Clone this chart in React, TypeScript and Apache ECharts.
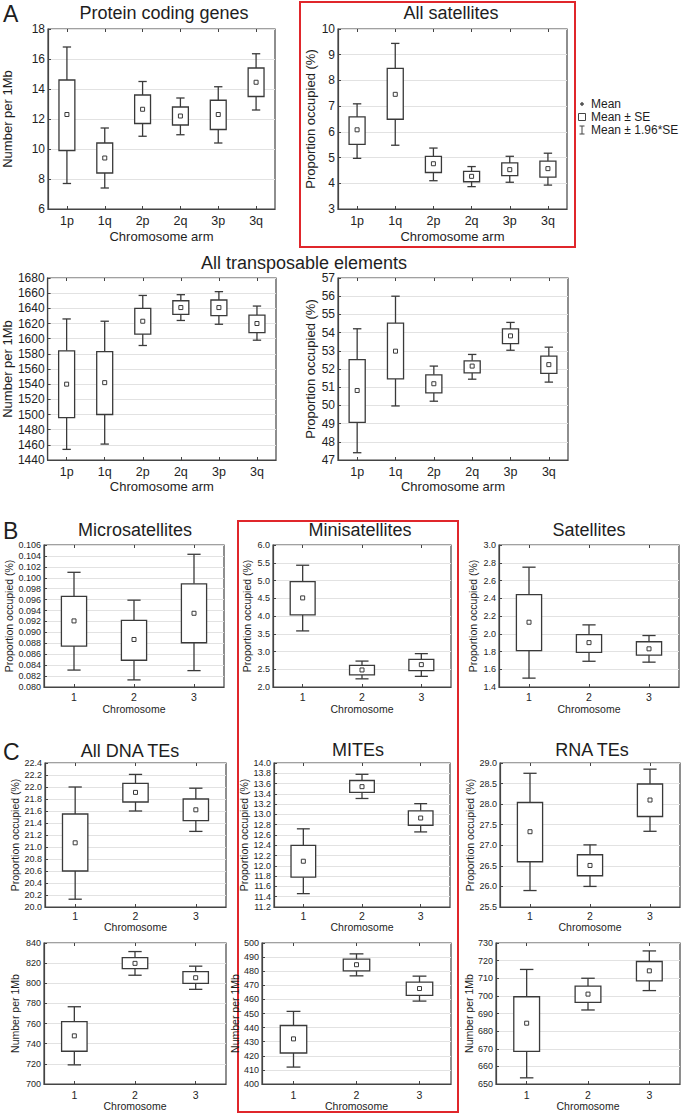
import React, { useEffect, useRef } from "react";
import * as echarts from "echarts";

// ---------- categories ----------
const armCategories = ["1p", "1q", "2p", "2q", "3p", "3q"];
const chromCategories = ["1", "2", "3"];

// each row: [mean-1.96SE, mean-SE, mean, mean+SE, mean+1.96SE]
const proteinCodingGenes = [
  [7.7, 9.9, 12.3, 14.6, 16.8],
  [7.4, 8.4, 9.4, 10.4, 11.4],
  [10.85, 11.7, 12.65, 13.6, 14.5],
  [10.95, 11.6, 12.2, 12.8, 13.4],
  [10.4, 11.3, 12.3, 13.25, 14.15],
  [12.6, 13.5, 14.45, 15.4, 16.35],
];
const allSatellites = [
  [4.97, 5.51, 6.08, 6.58, 7.09],
  [5.48, 6.49, 7.46, 8.47, 9.44],
  [4.1, 4.42, 4.76, 5.05, 5.37],
  [3.87, 4.06, 4.27, 4.46, 4.65],
  [4.04, 4.3, 4.53, 4.79, 5.05],
  [3.93, 4.24, 4.57, 4.86, 5.17],
];
const allTECount = [
  [1454, 1496, 1540, 1584, 1626],
  [1461, 1500, 1542, 1583, 1623],
  [1591, 1606, 1623, 1640, 1657],
  [1624, 1632, 1641, 1650, 1658],
  [1619, 1630.5, 1641, 1651, 1662],
  [1598, 1608, 1620, 1631, 1643],
];
const allTEProportion = [
  [47.4, 49.07, 50.82, 52.52, 54.21],
  [49.97, 51.46, 52.98, 54.52, 56.0],
  [50.23, 50.69, 51.19, 51.68, 52.16],
  [51.44, 51.79, 52.16, 52.45, 52.8],
  [53.03, 53.39, 53.82, 54.2, 54.56],
  [51.28, 51.76, 52.24, 52.71, 53.2],
];
const microsatellites = [
  [0.0831, 0.0875, 0.0921, 0.0966, 0.101],
  [0.0813, 0.0849, 0.0887, 0.0922, 0.0959],
  [0.083, 0.0881, 0.0935, 0.0989, 0.1043],
];
const minisatellites = [
  [3.58, 4.03, 4.51, 4.97, 5.43],
  [2.23, 2.34, 2.48, 2.61, 2.73],
  [2.3, 2.46, 2.63, 2.78, 2.94],
];
const satellites = [
  [1.5, 1.81, 2.13, 2.44, 2.75],
  [1.69, 1.79, 1.9, 1.99, 2.1],
  [1.68, 1.76, 1.83, 1.91, 1.98],
];
const dnaTEProportion = [
  [20.13, 20.6, 21.07, 21.55, 22.0],
  [21.6, 21.75, 21.91, 22.06, 22.21],
  [21.26, 21.44, 21.62, 21.8, 21.98],
];
const mitesProportion = [
  [11.46, 11.78, 12.09, 12.4, 12.72],
  [13.31, 13.43, 13.54, 13.66, 13.78],
  [12.66, 12.79, 12.93, 13.07, 13.21],
];
const rnaTEProportion = [
  [25.9, 26.6, 27.33, 28.04, 28.75],
  [26.0, 26.26, 26.51, 26.77, 27.01],
  [27.34, 27.7, 28.1, 28.49, 28.85],
];
const dnaTECount = [
  [719, 732.5, 747.8, 762, 776.7],
  [808, 814.5, 819.8, 825.5, 831.5],
  [794, 800, 805.5, 811.5, 817],
];
const mitesCount = [
  [412, 422, 432, 441.5, 451.5],
  [476.7, 480.3, 484.6, 488.5, 492.3],
  [458.8, 462.9, 467.7, 472.2, 476.5],
];
const rnaTECount = [
  [653.5, 668.5, 684.5, 699.5, 715],
  [692, 696.3, 701, 705.5, 710],
  [703, 708.5, 714.2, 719.5, 725.5],
];

const FONT = "'Liberation Sans', Arial, Helvetica, sans-serif";
const INK = "#3a3a3a";
const TXT = "#1e1e1e";

function renderBox(params: any, api: any) {
  const x = api.value(0);
  const ys = [1, 2, 3, 4, 5].map((i) => api.coord([x, api.value(i)])[1]);
  const cx = api.coord([x, api.value(3)])[0];
  const band = api.size([1, 0])[0];
  const bw = band * 0.42;
  const cw = band * 0.22;
  const [wl, bl, m, bh, wh] = ys;
  const st = { stroke: INK, lineWidth: 1.3, fill: null };
  return {
    type: "group",
    children: [
      { type: "line", shape: { x1: cx, y1: wl, x2: cx, y2: bl }, style: st },
      { type: "line", shape: { x1: cx, y1: bh, x2: cx, y2: wh }, style: st },
      { type: "line", shape: { x1: cx - cw / 2, y1: wl, x2: cx + cw / 2, y2: wl }, style: st },
      { type: "line", shape: { x1: cx - cw / 2, y1: wh, x2: cx + cw / 2, y2: wh }, style: st },
      { type: "rect", shape: { x: cx - bw / 2, y: bh, width: bw, height: bl - bh }, style: { stroke: INK, lineWidth: 1.3, fill: "#fff" } },
      { type: "rect", shape: { x: cx - 2, y: m - 2, width: 4, height: 4 }, style: { stroke: INK, lineWidth: 1, fill: "#fff" } },
    ],
  };
}

type PanelCfg = {
  left: number; top: number; width: number; height: number;
  cats: string[]; data: number[][];
  min: number; max: number; interval: number; dec: number;
  yName: string; yNameGap: number; xName: string; xNameGap: number;
  tickFont: number; xLabelFont: number; nameFont: number; xNameFont: number; labelMargin: number;
};

function buildOption() {
  const big = { tickFont: 12, xLabelFont: 12.5, nameFont: 13, xNameFont: 13 };
  const small = { tickFont: 9, xLabelFont: 10.5, nameFont: 10.5, xNameFont: 10.5 };
  const panels: PanelCfg[] = [
    { left: 46, top: 29, width: 229, height: 180, cats: armCategories, data: proteinCodingGenes, min: 6, max: 18, interval: 2, dec: 0, yName: "Number per 1Mb", yNameGap: 34, xName: "Chromosome arm", xNameGap: 21, labelMargin: 5, ...big },
    { left: 338, top: 29, width: 229, height: 180, cats: armCategories, data: allSatellites, min: 3, max: 10, interval: 1, dec: 0, yName: "Proportion occupied (%)", yNameGap: 21, xName: "Chromosome arm", xNameGap: 21, labelMargin: 5, ...big },
    { left: 45, top: 278, width: 231, height: 182, cats: armCategories, data: allTECount, min: 1440, max: 1680, interval: 20, dec: 0, yName: "Number per 1Mb", yNameGap: 33, xName: "Chromosome arm", xNameGap: 20, labelMargin: 5, ...big },
    { left: 338, top: 278, width: 230, height: 182, cats: armCategories, data: allTEProportion, min: 47, max: 57, interval: 1, dec: 0, yName: "Proportion occupied (%)", yNameGap: 21, xName: "Chromosome arm", xNameGap: 20, labelMargin: 5, ...big },

    { left: 44, top: 545, width: 180, height: 142, cats: chromCategories, data: microsatellites, min: 0.08, max: 0.106, interval: 0.002, dec: 3, yName: "Proportion occupied (%)", yNameGap: 27, xName: "Chromosome", xNameGap: 16, labelMargin: 4, ...small },
    { left: 273, top: 545, width: 178, height: 142, cats: chromCategories, data: minisatellites, min: 2, max: 6, interval: 0.5, dec: 1, yName: "Proportion occupied (%)", yNameGap: 21, xName: "Chromosome", xNameGap: 16, labelMargin: 4, ...small },
    { left: 499, top: 545, width: 180, height: 142, cats: chromCategories, data: satellites, min: 1.4, max: 3.0, interval: 0.2, dec: 1, yName: "Proportion occupied (%)", yNameGap: 21, xName: "Chromosome", xNameGap: 16, labelMargin: 4, ...small },

    { left: 45, top: 763, width: 181, height: 144, cats: chromCategories, data: dnaTEProportion, min: 20, max: 22.4, interval: 0.2, dec: 1, yName: "Proportion occupied (%)", yNameGap: 25, xName: "Chromosome", xNameGap: 14, labelMargin: 3, ...small },
    { left: 274, top: 763, width: 176, height: 144, cats: chromCategories, data: mitesProportion, min: 11.2, max: 14.0, interval: 0.2, dec: 1, yName: "Proportion occupied (%)", yNameGap: 21, xName: "Chromosome", xNameGap: 14, labelMargin: 3, ...small },
    { left: 500, top: 763, width: 180, height: 144, cats: chromCategories, data: rnaTEProportion, min: 25.5, max: 29.0, interval: 0.5, dec: 1, yName: "Proportion occupied (%)", yNameGap: 20, xName: "Chromosome", xNameGap: 14, labelMargin: 3, ...small },

    { left: 44, top: 943, width: 182, height: 141, cats: chromCategories, data: dnaTECount, min: 700, max: 840, interval: 20, dec: 0, yName: "Number per 1Mb", yNameGap: 24, xName: "Chromosome", xNameGap: 16, labelMargin: 5, ...small },
    { left: 262, top: 943, width: 189, height: 141, cats: chromCategories, data: mitesCount, min: 400, max: 500, interval: 10, dec: 0, yName: "Number per 1Mb", yNameGap: 22, xName: "Chromosome", xNameGap: 16, labelMargin: 5, ...small },
    { left: 496, top: 943, width: 184, height: 141, cats: chromCategories, data: rnaTECount, min: 650, max: 730, interval: 10, dec: 0, yName: "Number per 1Mb", yNameGap: 22, xName: "Chromosome", xNameGap: 16, labelMargin: 5, ...small },
  ];

  const grid: any[] = [];
  const xAxis: any[] = [];
  const yAxis: any[] = [];
  const series: any[] = [];

  panels.forEach((p, i) => {
    grid.push({ left: p.left, top: p.top, width: p.width, height: p.height, show: true, borderColor: "#444", borderWidth: 1.2, backgroundColor: "#fff", containLabel: false });
    xAxis.push({
      type: "category", gridIndex: i, data: p.cats, position: "bottom", boundaryGap: true,
      axisLine: { show: true, lineStyle: { color: "#444", width: 1.2 } },
      axisTick: { show: true, inside: true, alignWithLabel: true, length: 3, lineStyle: { color: "#444" } },
      axisLabel: { color: TXT, fontSize: p.xLabelFont, fontFamily: FONT, margin: p.labelMargin },
      splitLine: { show: false },
      name: p.xName, nameLocation: "middle", nameGap: p.xNameGap,
      nameTextStyle: { color: TXT, fontSize: p.xNameFont, fontFamily: FONT, verticalAlign: "top" },
    });
    xAxis.push({
      type: "category", gridIndex: i, data: p.cats, position: "top", boundaryGap: true,
      axisLine: { show: false },
      axisTick: { show: true, inside: true, alignWithLabel: true, length: 3, lineStyle: { color: "#444" } },
      axisLabel: { show: false }, splitLine: { show: false },
    });
    yAxis.push({
      type: "value", gridIndex: i, min: p.min, max: p.max, interval: p.interval,
      axisLine: { show: true, lineStyle: { color: "#444", width: 1.2 } },
      axisTick: { show: true, inside: true, length: 3, lineStyle: { color: "#444" } },
      axisLabel: { color: TXT, fontSize: p.tickFont, fontFamily: FONT, margin: 3, formatter: (v: number) => v.toFixed(p.dec), showMaxLabel: true, showMinLabel: true },
      splitLine: { show: true, lineStyle: { color: "#e2e2e2", width: 1 } },
      name: p.yName, nameLocation: "middle", nameGap: p.yNameGap, nameRotate: 90,
      nameTextStyle: { color: TXT, fontSize: p.nameFont, fontFamily: FONT },
    });
    series.push({
      type: "custom", xAxisIndex: 2 * i, yAxisIndex: i, renderItem: renderBox, clip: false, silent: true,
      encode: { x: 0, y: [1, 2, 3, 4, 5] },
      data: p.data.map((d, k) => [k, ...d]),
    });
  });

  const txt = (text: string, x: number, y: number, size: number, align = "center") => ({
    type: "text", silent: true,
    style: { text, x, y, fill: TXT, fontSize: size, fontFamily: FONT, align, verticalAlign: "middle", textAlign: align, textVerticalAlign: "middle" },
  });

  const graphic: any[] = [
    { type: "rect", shape: { x: 300, y: 2, width: 275, height: 245 }, style: { fill: null, stroke: "#e0262b", lineWidth: 2 } },
    { type: "rect", shape: { x: 238, y: 521, width: 220, height: 591 }, style: { fill: null, stroke: "#e0262b", lineWidth: 2 } },
    txt("A", 3, 14, 23, "left"),
    txt("B", 3, 531, 23, "left"),
    txt("C", 3, 752, 23, "left"),
    txt("Protein coding genes", 164, 13, 18),
    txt("All satellites", 451, 13, 18),
    txt("All transposable elements", 304, 263, 18),
    txt("Microsatellites", 135, 530, 18),
    txt("Minisatellites", 360, 530, 18),
    txt("Satellites", 589, 530, 18),
    txt("All DNA TEs", 130, 751, 18),
    txt("MITEs", 358, 750, 18),
    txt("RNA TEs", 592, 750, 18),
    // legend
    { type: "circle", shape: { cx: 582, cy: 104, r: 1.5 }, style: { fill: "#555", stroke: "#555", lineWidth: 0.8 } },
    { type: "rect", shape: { x: 578.5, y: 113.5, width: 7, height: 7 }, style: { fill: "#fff", stroke: "#444", lineWidth: 1 } },
    { type: "line", shape: { x1: 582, y1: 126, x2: 582, y2: 134 }, style: { stroke: "#444", lineWidth: 1 } },
    { type: "line", shape: { x1: 579.5, y1: 126, x2: 584.5, y2: 126 }, style: { stroke: "#444", lineWidth: 1 } },
    { type: "line", shape: { x1: 579.5, y1: 134, x2: 584.5, y2: 134 }, style: { stroke: "#444", lineWidth: 1 } },
    txt("Mean", 591, 104, 12, "left"),
    txt("Mean ± SE", 591, 117, 12, "left"),
    txt("Mean ± 1.96*SE", 591, 130, 12, "left"),
  ];

  return { animation: false, backgroundColor: "#fff", grid, xAxis, yAxis, series, graphic };
}

export default function App() {
  const ref = useRef<HTMLDivElement>(null);
  useEffect(() => {
    document.body.style.margin = "0";
    if (!ref.current) return;
    const chart = echarts.init(ref.current, undefined, { renderer: "svg" });
    chart.setOption(buildOption() as any);
    return () => chart.dispose();
  }, []);
  return <div ref={ref} style={{ position: "absolute", left: 0, top: 0, width: 685, height: 1115, background: "#fff" }} />;
}
